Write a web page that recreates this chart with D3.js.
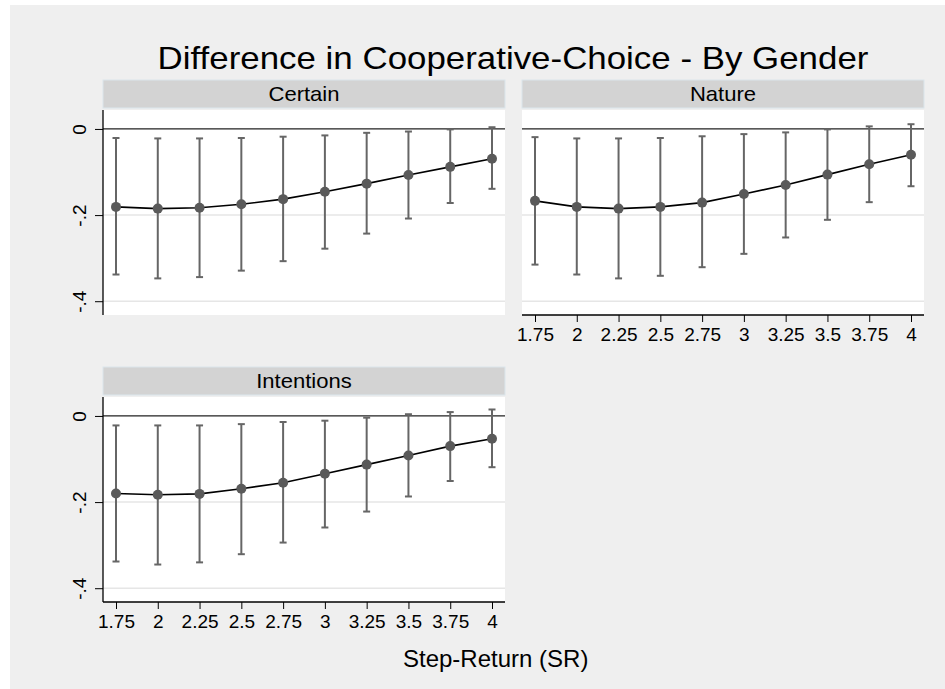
<!DOCTYPE html>
<html>
<head>
<meta charset="utf-8">
<script src="https://cdn.jsdelivr.net/npm/d3@7"></script>
<style>
  body { margin: 0; background: #fff; }
  svg { display: block; font-family: "Liberation Sans", Arial, sans-serif; }
</style>
</head>
<body>
<div class="container"></div>
<script>
// step-return levels on the x axis
const sr = [1.75, 2, 2.25, 2.5, 2.75, 3, 3.25, 3.5, 3.75, 4];
const xTicks = [1.75, 2, 2.25, 2.5, 2.75, 3, 3.25, 3.5, 3.75, 4];
const yTicks = [0, -0.2, -0.4];
const yLabels = ["0", "-.2", "-.4"];
const panels = ["Certain", "Nature", "Intentions"];

// point estimates and 95% CI bounds, per panel
const certainEst = [-0.181, -0.185, -0.183, -0.175, -0.163, -0.146, -0.127, -0.107, -0.088, -0.069];
const certainLo  = [-0.338, -0.347, -0.344, -0.329, -0.307, -0.278, -0.243, -0.208, -0.172, -0.139];
const certainHi  = [-0.021, -0.022, -0.022, -0.021, -0.018, -0.015, -0.009, -0.006, -0.001, 0.004];

const natureEst = [-0.167, -0.181, -0.185, -0.181, -0.171, -0.151, -0.130, -0.106, -0.082, -0.060];
const natureLo  = [-0.315, -0.338, -0.347, -0.341, -0.321, -0.290, -0.252, -0.211, -0.170, -0.133];
const natureHi  = [-0.019, -0.022, -0.022, -0.021, -0.017, -0.012, -0.008, -0.001, 0.006, 0.011];

const intentEst = [-0.180, -0.183, -0.181, -0.169, -0.155, -0.134, -0.113, -0.092, -0.070, -0.053];
const intentLo  = [-0.338, -0.345, -0.340, -0.321, -0.294, -0.259, -0.222, -0.187, -0.151, -0.119];
const intentHi  = [-0.022, -0.022, -0.022, -0.019, -0.014, -0.011, -0.004, 0.004, 0.009, 0.015];

const W = 945, H = 689;
const svg = d3.select(".container").append("svg")
  .attr("width", W).attr("height", H);

// graph region background
svg.append("rect").attr("x", 10).attr("y", 5)
  .attr("width", W - 10).attr("height", H - 5).attr("fill", "#efefef");

// text in the original is a little wider than Liberation Sans
svg.append("text")
  .attr("transform", "translate(513,69) scale(1.09,1)")
  .attr("text-anchor", "middle")
  .attr("font-size", 32)
  .attr("fill", "#000")
  .text("Difference in Cooperative-Choice - By Gender");

let pw = 402, ph = 205, stripH = 28;
let layout = [
  {name: panels[0], x0: 103, y0: 110, est: certainEst, lo: certainLo, hi: certainHi, yAxis: true, xAxis: false},
  {name: panels[1], x0: 522, y0: 110, est: natureEst, lo: natureLo, hi: natureHi, yAxis: false, xAxis: true},
  {name: panels[2], x0: 103, y0: 397, est: intentEst, lo: intentLo, hi: intentHi, yAxis: true, xAxis: true},
];

layout.forEach(p => {
  let g = svg.append("g");
  let x = d3.scaleLinear().domain([1.75, 4]).range([p.x0 + 13, p.x0 + 389]);
  let y = d3.scaleLinear().domain([-0.432, 0.044]).range([p.y0 + ph, p.y0]);

  // strip
  g.append("rect")
    .attr("x", p.x0).attr("y", p.y0 - 2 - stripH)
    .attr("width", pw).attr("height", stripH)
    .attr("fill", "#d3d3d3").attr("stroke", "#dbe6ec").attr("stroke-width", 1);
  g.append("text")
    .attr("transform", `translate(${p.x0 + pw / 2},${p.y0 - 9}) scale(1.05,1)`)
    .attr("text-anchor", "middle").attr("font-size", 21)
    .text(p.name);

  // plot region
  g.append("rect")
    .attr("x", p.x0).attr("y", p.y0)
    .attr("width", pw).attr("height", ph).attr("fill", "#fff");

  g.selectAll(".grid").data(yTicks.filter(d => d !== 0)).enter()
    .append("line")
    .attr("x1", p.x0).attr("x2", p.x0 + pw)
    .attr("y1", d => y(d)).attr("y2", d => y(d))
    .attr("stroke", "#e6e6e6").attr("stroke-width", 1.5);

  g.append("line")
    .attr("x1", p.x0).attr("x2", p.x0 + pw)
    .attr("y1", y(0)).attr("y2", y(0))
    .attr("stroke", "#222").attr("stroke-width", 1.3);

  if (p.yAxis) {
    let ax = g.append("g").attr("transform", `translate(${p.x0},0)`)
      .call(d3.axisLeft(y).tickValues(yTicks).tickFormat((d, i) => yLabels[i]).tickSize(8).tickSizeOuter(0));
    ax.select(".domain").remove();
    ax.selectAll(".tick line").attr("stroke", "#000");
    ax.selectAll(".tick text")
      .attr("font-size", 19).attr("font-family", "Liberation Sans, Arial, sans-serif")
      .attr("fill", "#000")
      .attr("text-anchor", "middle")
      .attr("x", null).attr("dy", null)
      .attr("transform", "translate(-17,0) rotate(-90)");
    g.append("line")
      .attr("x1", p.x0).attr("x2", p.x0)
      .attr("y1", p.y0).attr("y2", p.y0 + ph)
      .attr("stroke", "#000").attr("stroke-width", 1.3);
  }

  if (p.xAxis) {
    let ax = g.append("g").attr("transform", `translate(0,${p.y0 + ph})`)
      .call(d3.axisBottom(x).tickValues(xTicks).tickFormat(d3.format("")).tickSize(7).tickPadding(6).tickSizeOuter(0));
    ax.select(".domain").remove();
    ax.selectAll(".tick line").attr("stroke", "#000");
    ax.selectAll(".tick text")
      .attr("font-size", 19).attr("font-family", "Liberation Sans, Arial, sans-serif")
      .attr("fill", "#000");
    g.append("line")
      .attr("x1", p.x0).attr("x2", p.x0 + pw)
      .attr("y1", p.y0 + ph).attr("y2", p.y0 + ph)
      .attr("stroke", "#000").attr("stroke-width", 1.3);
  }

  let rows = sr.map((s, i) => ({s: s, est: p.est[i], lo: p.lo[i], hi: p.hi[i]}));

  // confidence intervals
  let ci = g.selectAll(".ci").data(rows).enter().append("g");
  ci.append("line")
    .attr("x1", d => x(d.s)).attr("x2", d => x(d.s))
    .attr("y1", d => y(d.lo)).attr("y2", d => y(d.hi))
    .attr("stroke", "#666").attr("stroke-width", 2);
  ["lo", "hi"].forEach(k => {
    ci.append("line")
      .attr("x1", d => x(d.s) - 3.5).attr("x2", d => x(d.s) + 3.5)
      .attr("y1", d => y(d[k])).attr("y2", d => y(d[k]))
      .attr("stroke", "#666").attr("stroke-width", 2);
  });

  g.append("path").datum(rows)
    .attr("fill", "none").attr("stroke", "#000").attr("stroke-width", 1.6)
    .attr("d", d3.line().x(d => x(d.s)).y(d => y(d.est)));

  g.selectAll(".pt").data(rows).enter().append("circle")
    .attr("cx", d => x(d.s)).attr("cy", d => y(d.est)).attr("r", 5)
    .attr("fill", "#5a5a5a");
});

svg.append("text")
  .attr("x", 403).attr("y", 667)
  .attr("font-size", 24)
  .text("Step-Return (SR)");
</script>
</body>
</html>
